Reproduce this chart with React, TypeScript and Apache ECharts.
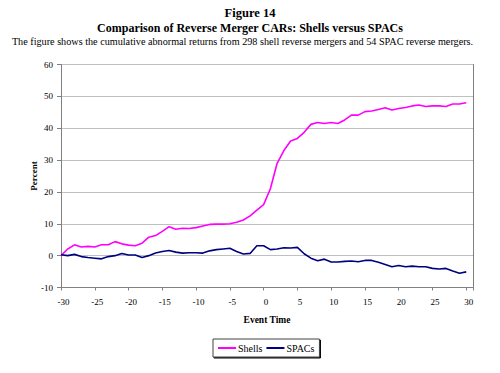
import React, { useEffect, useRef } from "react";
import * as echarts from "echarts";

const eventTimes = [
  -30, -29, -28, -27, -26, -25, -24, -23, -22, -21, -20, -19, -18, -17, -16, -15,
  -14, -13, -12, -11, -10, -9, -8, -7, -6, -5, -4, -3, -2, -1, 0, 1, 2, 3, 4, 5,
  6, 7, 8, 9, 10, 11, 12, 13, 14, 15, 16, 17, 18, 19, 20, 21, 22, 23, 24, 25, 26,
  27, 28, 29, 30,
];

const shells = [
  0, 2.1, 3.4, 2.7, 2.9, 2.7, 3.4, 3.4, 4.4, 3.7, 3.3, 3.1, 3.9, 5.8, 6.3, 7.6,
  9.1, 8.3, 8.6, 8.5, 8.8, 9.3, 9.8, 9.9, 9.9, 10, 10.5, 11.2, 12.5, 14.3, 16,
  21, 29, 33, 36, 36.8, 38.7, 41.2, 41.8, 41.5, 41.8, 41.5, 42.6, 44.1, 44.1, 45.2,
  45.4, 45.9, 46.4, 45.7, 46.2, 46.5, 47, 47.3, 46.8, 47, 47, 46.8, 47.6, 47.6,
  48,
];

const spacs = [
  0.3, 0, 0.4, -0.3, -0.6, -0.8, -1.0, -0.3, 0, 0.7, 0.2, 0.2, -0.6, 0, 0.8, 1.3,
  1.6, 1.1, 0.8, 0.9, 0.9, 0.8, 1.5, 1.9, 2.1, 2.3, 1.3, 0.5, 0.7, 3.1, 3.1, 1.9,
  2.1, 2.5, 2.4, 2.6, 0.6, -0.8, -1.6, -1.1, -2.0, -2.0, -1.8, -1.7, -1.9, -1.5,
  -1.5, -2.1, -2.8, -3.5, -3.1, -3.5, -3.3, -3.5, -3.5, -4.0, -4.2, -4.0, -4.8,
  -5.5, -5.1,
];

const yTicks = { min: -10, max: 60, interval: 10 };
const xTicks = { min: -30, max: 31, interval: 5 };

const titleLines = [
  "Figure 14",
  "Comparison of Reverse Merger CARs: Shells versus SPACs",
  "The figure shows the cumulative abnormal returns from 298 shell reverse mergers and 54 SPAC reverse mergers.",
];

const FONT = "Liberation Serif";

export default function App() {
  const ref = useRef<HTMLDivElement>(null);
  useEffect(() => {
    if (!ref.current) return;
    const chart = echarts.init(ref.current, null, { renderer: "svg" });
    const axisGray = "#808080";
    chart.setOption({
      animation: false,
      backgroundColor: "#ffffff",
      textStyle: { fontFamily: FONT },
      graphic: [
        {
          type: "text",
          x: 250,
          y: 13,
          style: {
            text: titleLines[0],
            fontFamily: FONT,
            fontWeight: "bold",
            fontSize: 12.5,
            fill: "#000",
            textAlign: "center",
            textVerticalAlign: "middle",
          },
        },
        {
          type: "text",
          x: 250,
          y: 27.5,
          style: {
            text: titleLines[1],
            fontFamily: FONT,
            fontWeight: "bold",
            fontSize: 12,
            fill: "#000",
            textAlign: "center",
            textVerticalAlign: "middle",
          },
        },
        {
          type: "text",
          x: 242.5,
          y: 41,
          style: {
            text: titleLines[2],
            fontFamily: FONT,
            fontSize: 10.2,
            fill: "#000",
            textAlign: "center",
            textVerticalAlign: "middle",
          },
        },
      ],
      grid: { left: 61, right: 27, top: 64.5, bottom: 85.5, containLabel: false },
      xAxis: {
        type: "value",
        min: xTicks.min,
        max: xTicks.max,
        interval: xTicks.interval,
        name: "Event Time",
        nameLocation: "middle",
        nameGap: 27,
        nameMoveOverlap: false,
        nameTextStyle: { fontFamily: FONT, fontWeight: "bold", fontSize: 9.5, color: "#000" },
        axisLine: { show: true, onZero: false, lineStyle: { color: axisGray, width: 1 } },
        axisTick: { show: true, inside: false, length: 3, lineStyle: { color: axisGray } },
        axisLabel: {
          fontFamily: FONT,
          fontSize: 9,
          color: "#000",
          margin: 10,
          padding: [0, 0, 0, 5],
          formatter: (v: number) => (v % 5 === 0 && v <= 30 ? String(v) : ""),
        },
        splitLine: { show: false },
      },
      yAxis: [
        {
          type: "value",
          min: yTicks.min,
          max: yTicks.max,
          interval: yTicks.interval,
          name: "Percent",
          nameLocation: "middle",
          nameGap: 23,
          nameMoveOverlap: false,
          nameTextStyle: { fontFamily: FONT, fontWeight: "bold", fontSize: 9, color: "#000" },
          axisLine: { show: true, onZero: false, lineStyle: { color: axisGray, width: 1 } },
          axisTick: { show: true, inside: false, length: 4, lineStyle: { color: axisGray } },
          axisLabel: { fontFamily: FONT, fontSize: 9, color: "#000", margin: 8 },
          splitLine: { show: true, lineStyle: { color: "#c0c0c0", width: 1.2 } },
        },
        {
          type: "value",
          position: "right",
          min: yTicks.min,
          max: yTicks.max,
          interval: yTicks.interval,
          axisLine: { show: true, onZero: false, lineStyle: { color: axisGray, width: 1 } },
          axisTick: { show: false },
          axisLabel: { show: false },
          splitLine: { show: false },
        },
      ],
      legend: {
        left: 213,
        top: 339,
        orient: "horizontal",
        icon: "rect",
        itemWidth: 18,
        itemHeight: 2,
        itemGap: 4,
        padding: [4, 5],
        borderColor: "#404040",
        borderWidth: 1,
        backgroundColor: "#ffffff",
        shadowColor: "#000000",
        shadowOffsetX: 1,
        shadowOffsetY: 1,
        shadowBlur: 0,
        textStyle: { fontFamily: FONT, fontSize: 10, color: "#000", padding: [0, 0, 0, -3] },
        data: ["Shells", "SPACs"],
      },
      series: [
        {
          name: "Shells",
          type: "line",
          symbol: "none",
          data: eventTimes.map((t, i) => [t, shells[i]]),
          lineStyle: { color: "#ff00ff", width: 1.6 },
          itemStyle: { color: "#ff00ff" },
        },
        {
          name: "SPACs",
          type: "line",
          symbol: "none",
          data: eventTimes.map((t, i) => [t, spacs[i]]),
          lineStyle: { color: "#000080", width: 1.6 },
          itemStyle: { color: "#000080" },
        },
      ],
    });
    return () => chart.dispose();
  }, []);
  return <div ref={ref} style={{ width: 500, height: 373, position: "absolute", left: 0, top: 0 }} />;
}
